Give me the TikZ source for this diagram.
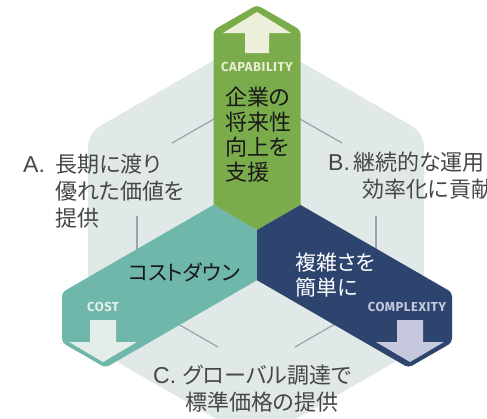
\documentclass[tikz,border=0pt]{standalone}
\usepackage{fontspec}
\setmainfont{Liberation Sans}
\newfontfamily\jpfont[RawFeature=+palt]{Noto Sans CJK JP}
\newfontfamily\latfont{Liberation Sans}
\newfontfamily\capfont[LetterSpace=4]{Fira Sans}
\newcommand\abcfont{\latfont\fontsize{23}{27}\selectfont}
\definecolor{bgc}{HTML}{E0E9E7}
\definecolor{linec}{HTML}{9AA4A7}
\definecolor{greenc}{HTML}{7BAC4B}
\definecolor{tealc}{HTML}{70B7AB}
\definecolor{navyc}{HTML}{2D456E}
\definecolor{creamc}{HTML}{ECEFD9}
\definecolor{costc}{HTML}{E3EEEB}
\definecolor{cplxc}{HTML}{C6C9DD}
\definecolor{lblc}{HTML}{474747}
\definecolor{captc}{HTML}{E6EDD3}
\begin{document}
\begin{tikzpicture}[x=1pt,y=-1pt,
  deco/.style={draw=linec, line width=1.2pt},
  lbl/.style={font=\jpfont\fontsize{22}{27}\selectfont, text=lblc, inner sep=0pt, align=left},
  armtxt/.style={font=\jpfont\fontsize{22}{25}\selectfont, inner sep=0pt, align=left},
  armtxtb/.style={font=\jpfont\fontsize{21}{25}\selectfont, inner sep=0pt, align=left},
  captxt/.style={font=\capfont\bfseries\fontsize{13}{15}\selectfont, inner sep=0pt}
]
\clip (0,0) rectangle (487,418);
\fill[white] (0,0) rectangle (487,418);
% background hexagon
\fill[bgc, rounded corners=14pt] (256,36) -- (424,133) -- (424,345) -- (256,442) -- (88,345) -- (88,133) -- cycle;
% decorative thin lines
\draw[deco] (172,143) -- (214,119);
\draw[deco] (300,119) -- (342,143);
\draw[deco] (137,216) -- (137,252);
\draw[deco] (376,216) -- (376,252);
\draw[deco] (178,324) -- (218,347);
\draw[deco] (295,347) -- (335,324);
% green arm
\fill[greenc] (257,230) -- (213.5,204.9) [rounded corners=4pt] -- (213.5,30) -- (257,5) -- (300.5,30) [sharp corners] -- (300.5,204.9) -- cycle;
% teal arm
\fill[tealc] (257,230) -- (213.5,204.9) [rounded corners=4pt] -- (62,292.4) -- (62,342.6) -- (105.5,367.7) [sharp corners] -- (257,280.2) -- cycle;
% navy arm
\fill[navyc] (257,230) -- (300.5,204.9) [rounded corners=4pt] -- (452,292.4) -- (452,342.6) -- (408.5,367.7) [sharp corners] -- (257,280.2) -- cycle;
% arrows
\fill[creamc] (245,53) -- (245,33) -- (223,33) -- (257,12) -- (291,33) -- (269,33) -- (269,53) -- cycle;
\fill[costc] (90,320) -- (90,342) -- (69,342) -- (103,362) -- (137,342) -- (116,342) -- (116,320) -- cycle;
\fill[cplxc] (397,320) -- (397,342) -- (376,342) -- (410,362) -- (444,342) -- (423,342) -- (423,320) -- cycle;
% captions
\node[captxt, text=captc] (cap) at (257,67) {CAPABILITY};
\node[captxt, text=costc] (cost) at (103,307) {COST};
\node[captxt, text=cplxc] (cplx) at (407,307) {COMPLEXITY};
% arm texts
\node[armtxt, anchor=west, text=black!90] (gtxt) at (225,134.5) {企業の\\将来性\\向上を\\支援};
\node[armtxtb, text=black!90] (ttxt) at (184,272) {コストダウン};
\node[armtxtb, anchor=west, text=white] (ntxt) at (295,274.5) {複雑さを\\簡単に};
% outer labels
\node[lbl, anchor=west] (la) at (23,191) {\makebox[32pt][l]{\abcfont A.}長期に渡り\\\hspace*{32pt}優れた価値を\\\hspace*{32pt}提供};
\node[lbl, anchor=west] (lb) at (328,176) {\makebox[25pt][l]{\abcfont B.}継続的な運用\\\hspace*{34pt}効率化に貢献};
\node[lbl, anchor=west] (lc) at (153,388.5) {\makebox[30pt][l]{\abcfont C.}グローバル調達で\\\hspace*{32pt}標準価格の提供};
\end{tikzpicture}
\end{document}
